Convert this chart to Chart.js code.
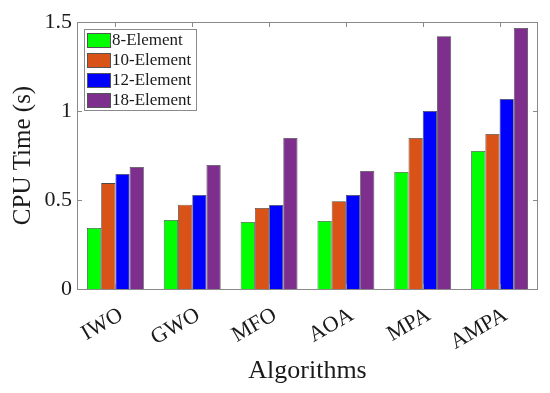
<!DOCTYPE html>
<html>
<head>
<meta charset="utf-8">
<script src="https://cdn.jsdelivr.net/npm/chart.js@4"></script>
<style>
  html, body { margin: 0; padding: 0; background: #fff; }
  #wrap { width: 550px; height: 393px; }
</style>
</head>
<body>
<div id="wrap"><canvas id="cpuChart" width="550" height="393"></canvas></div>
<script>
// chart data
const algorithms = ["IWO", "GWO", "MFO", "AOA", "MPA", "AMPA"];
const seriesNames = ["8-Element", "10-Element", "12-Element", "18-Element"];
const elem8 = [0.343, 0.388, 0.376, 0.382, 0.657, 0.775];
const elem10 = [0.595, 0.474, 0.455, 0.493, 0.848, 0.871];
const elem12 = [0.646, 0.528, 0.472, 0.528, 1.0, 1.067];
const elem18 = [0.685, 0.697, 0.848, 0.663, 1.42, 1.466];
const yTicks = [0, 0.5, 1, 1.5];
const yTickLabels = ["0", "0.5", "1", "1.5"];

const colors = ["#00FF00", "#D95319", "#0000FF", "#7E2F8E"];
const axisColor = "#8a8a8a";
const fontFamily = "'Liberation Serif', 'Times New Roman', serif";

// draws the box, the inward tick marks and the in-plot legend (MATLAB look)
const matlabFrame = {
    id: "matlabFrame",
    afterDatasetsDraw(chart) {
        const { ctx, chartArea: a, scales } = chart;
        ctx.save();
        ctx.strokeStyle = axisColor;
        ctx.lineWidth = 1;
        ctx.strokeRect(a.left + 0.5, a.top + 0.5, a.right - a.left - 1, a.bottom - a.top);

        const tick = 5;
        ctx.beginPath();
        algorithms.forEach((_, i) => {
            const x = Math.round(scales.x.getPixelForValue(i)) + 0.5;
            ctx.moveTo(x, a.bottom); ctx.lineTo(x, a.bottom - tick);
            ctx.moveTo(x, a.top); ctx.lineTo(x, a.top + tick);
        });
        yTicks.forEach(v => {
            const y = Math.round(scales.y.getPixelForValue(v)) + 0.5;
            ctx.moveTo(a.left, y); ctx.lineTo(a.left + tick, y);
            ctx.moveTo(a.right, y); ctx.lineTo(a.right - tick, y);
        });
        ctx.stroke();

        // legend
        const lx = a.left + 7, ly = a.top + 7;
        const rowH = 20, boxW = 112, boxH = 81;
        ctx.fillStyle = "#fff";
        ctx.fillRect(lx, ly, boxW, boxH);
        ctx.strokeStyle = axisColor;
        ctx.strokeRect(lx + 0.5, ly + 0.5, boxW, boxH);
        ctx.font = "17px " + fontFamily;
        ctx.textBaseline = "middle";
        chart.data.datasets.forEach((ds, i) => {
            const cy = ly + 11 + i * rowH;
            ctx.fillStyle = ds.backgroundColor;
            ctx.fillRect(lx + 3, cy - 7, 23, 14);
            ctx.strokeStyle = "#555";
            ctx.strokeRect(lx + 3.5, cy - 6.5, 23, 14);
            ctx.fillStyle = "#1a1a1a";
            ctx.fillText(ds.label, lx + 28, cy + 1);
        });
        ctx.restore();
    }
};

const ctx = document.getElementById("cpuChart").getContext("2d");
const cpuChart = new Chart(ctx, {
    type: "bar",
    data: {
        labels: algorithms,
        datasets: [elem8, elem10, elem12, elem18].map((vals, i) => ({
            label: seriesNames[i],
            data: vals,
            backgroundColor: colors[i],
            borderColor: "#4a4a4a",
            borderWidth: 0.8,
            categoryPercentage: 0.74,
            barPercentage: 1.0,
        })),
    },
    options: {
        responsive: false,
        animation: false,
        devicePixelRatio: 1,
        layout: { padding: { top: 22, right: 12, left: 0, bottom: 0 } },
        plugins: {
            legend: { display: false },
            tooltip: { enabled: false },
        },
        scales: {
            x: {
                grid: { display: false, drawTicks: false },
                border: { display: false },
                ticks: {
                    color: "#1a1a1a",
                    font: { family: fontFamily, size: 22 },
                    maxRotation: 30,
                    minRotation: 30,
                    padding: 13,
                    labelOffset: 6,
                },
                title: {
                    display: true,
                    text: "Algorithms",
                    color: "#1a1a1a",
                    font: { family: fontFamily, size: 26 },
                    padding: { top: 2, bottom: 6 },
                },
                afterFit(scale) { scale.height = 104; },
            },
            y: {
                min: 0,
                max: 1.5,
                grid: { display: false, drawTicks: false },
                border: { display: false },
                afterBuildTicks(scale) { scale.ticks = yTicks.map(v => ({ value: v })); },
                ticks: {
                    color: "#1a1a1a",
                    font: { family: fontFamily, size: 22 },
                    padding: 5,
                    callback: (v, i) => yTickLabels[i],
                },
                title: {
                    display: true,
                    text: "CPU Time (s)",
                    color: "#1a1a1a",
                    font: { family: fontFamily, size: 25 },
                    padding: { top: 8, bottom: 0 },
                },
                afterFit(scale) { scale.width = 77; },
            },
        },
    },
    plugins: [matlabFrame],
});
</script>
</body>
</html>
